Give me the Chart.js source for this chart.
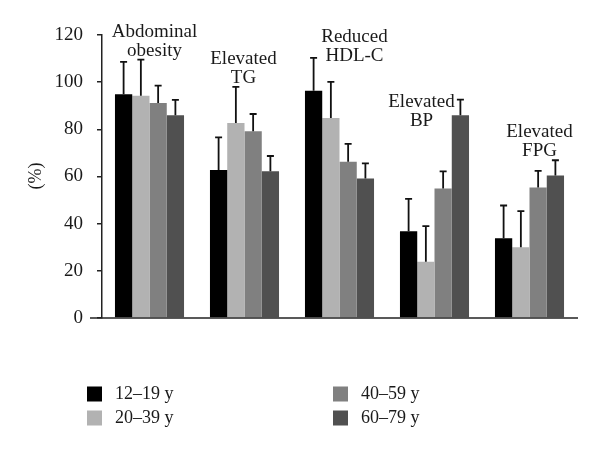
<!DOCTYPE html>
<html>
<head>
<meta charset="utf-8">
<script src="https://cdn.jsdelivr.net/npm/chart.js@4/dist/chart.umd.min.js"></script>
<style>
html,body{margin:0;padding:0;background:#fff;}
#wrap{width:600px;height:451px;}
</style>
</head>
<body>
<div id="wrap"><canvas id="c" width="600" height="451"></canvas></div>
<script>
const categories = [["Abdominal","obesity"],["Elevated","TG"],["Reduced","HDL-C"],["Elevated","BP"],["Elevated","FPG"]];
const seriesNames = ["12–19 y","20–39 y","40–59 y","60–79 y"];
const age12_19 = [94.9, 62.8, 96.4, 36.8, 33.8];
const age20_39 = [94.2, 82.7, 84.8, 23.8, 30.0];
const age40_59 = [91.2, 79.2, 66.3, 54.9, 55.3];
const age60_79 = [86.0, 62.2, 59.1, 86.0, 60.4];
const sd12_19 = [13.7, 13.8, 13.9, 13.7, 13.9];
const sd20_39 = [15.4, 15.3, 15.3, 15.2, 15.3];
const sd40_59 = [7.3, 7.3, 7.5, 7.3, 7.1];
const sd60_79 = [6.5, 6.5, 6.5, 6.6, 6.5];
const yTicks = [0, 20, 40, 60, 80, 100, 120];

const colors = ["#000000", "#b2b2b2", "#808080", "#505050"];
const values = [age12_19, age20_39, age40_59, age60_79];
const sds = [sd12_19, sd20_39, sd40_59, sd60_79];
const FONT = '"Liberation Serif", "DejaVu Serif", serif';
const TXT = "#1a1a1a";

// category label placement (annotation layout): x offset in px, top-line y in data units
const labelDx = [5, -1, 15, -13, 10];
const labelY = [121.4, 109.9, 119.3, 91.7, 79.0];

const custom = {
  id: 'custom',
  afterDatasetsDraw(chart) {
    const ctx = chart.ctx;
    const y = chart.scales.y, x = chart.scales.x;
    ctx.save();
    // error bars
    chart.data.datasets.forEach((ds, di) => {
      const meta = chart.getDatasetMeta(di);
      meta.data.forEach((el, i) => {
        const top = y.getPixelForValue(ds.data[i] + sds[di][i]);
        ctx.strokeStyle = "#111";
        ctx.lineWidth = 1.8;
        ctx.beginPath();
        ctx.moveTo(el.x, el.y);
        ctx.lineTo(el.x, top);
        ctx.moveTo(el.x - 3.5, top);
        ctx.lineTo(el.x + 3.5, top);
        ctx.stroke();
      });
    });
    // x baseline
    const y0 = y.getPixelForValue(0);
    ctx.strokeStyle = "#222";
    ctx.lineWidth = 1.5;
    ctx.beginPath();
    ctx.moveTo(chart.chartArea.left - 12, y0);
    ctx.lineTo(chart.chartArea.right + 1, y0);
    ctx.stroke();
    // category labels
    ctx.fillStyle = TXT;
    ctx.font = '19px ' + FONT;
    ctx.textAlign = 'center';
    ctx.textBaseline = 'middle';
    categories.forEach((lines, i) => {
      const cx = x.getPixelForValue(i) + labelDx[i];
      const ty = y.getPixelForValue(labelY[i]);
      lines.forEach((ln, k) => ctx.fillText(ln, cx, ty + k * 19.5));
    });
    // y title
    ctx.font = '18px ' + FONT;
    ctx.save();
    ctx.translate(36, 176);
    ctx.rotate(-Math.PI / 2);
    ctx.fillText("(%)", 0, 0);
    ctx.restore();
    // legend
    const colX = [87, 333], rowY = [394, 418];
    chart.data.datasets.forEach((ds, di) => {
      const cx = colX[Math.floor(di / 2)], cy = rowY[di % 2];
      ctx.fillStyle = ds.backgroundColor;
      ctx.fillRect(cx, cy - 7.5, 15, 15);
      ctx.fillStyle = TXT;
      ctx.textAlign = 'left';
      ctx.fillText(ds.label, cx + 28, cy);
    });
    ctx.restore();
  }
};

new Chart(document.getElementById('c'), {
  type: 'bar',
  data: {
    labels: categories.map(c => c.join(' ')),
    datasets: seriesNames.map((n, i) => ({
      label: n,
      data: values[i],
      backgroundColor: colors[i],
      borderWidth: 0
    }))
  },
  options: {
    responsive: false,
    animation: false,
    devicePixelRatio: 1,
    categoryPercentage: 0.727,
    barPercentage: 1.0,
    layout: { padding: { left: 0, top: 35, right: 23, bottom: 133 } },
    plugins: { legend: { display: false }, tooltip: { enabled: false } },
    scales: {
      x: {
        display: true,
        ticks: { display: false },
        grid: { display: false },
        border: { display: false },
        afterFit(s) { s.height = 0; }
      },
      y: {
        min: 0, max: 120,
        afterFit(s) { s.width = 102; },
        afterBuildTicks(s) { s.ticks = yTicks.map(v => ({ value: v })); },
        ticks: { color: TXT, font: { family: FONT, size: 19 }, padding: 14 },
        grid: { drawOnChartArea: false, drawTicks: true, tickLength: 5, color: "#222", lineWidth: 1.5 },
        border: { display: true, color: "#222", width: 1.5 }
      }
    }
  },
  plugins: [custom]
});
</script>
</body>
</html>
